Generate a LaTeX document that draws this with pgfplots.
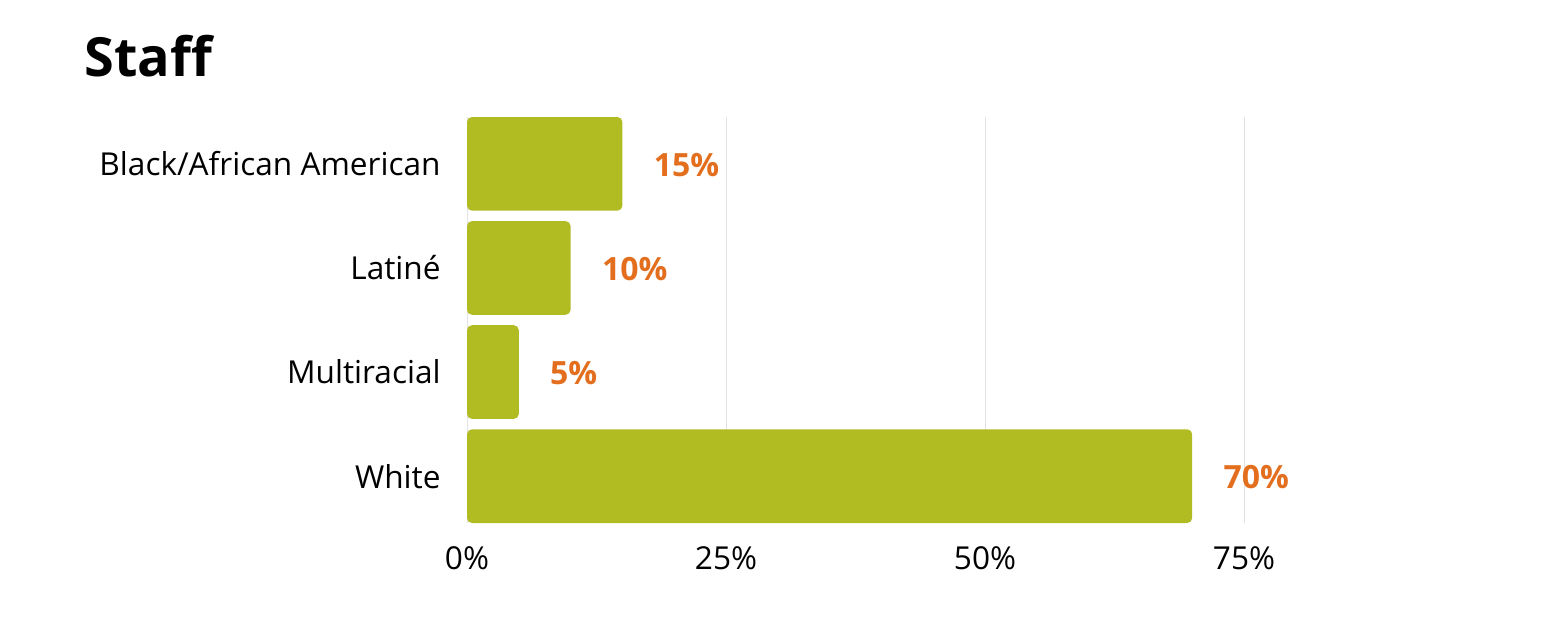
\documentclass[border=0pt]{standalone}
\usepackage{pgfplots}
\pgfplotsset{compat=1.18}
\usepackage{fontspec}
\setmainfont{Open Sans}
\definecolor{barc}{HTML}{B1BC22}
\definecolor{labc}{HTML}{E36F1E}
\definecolor{gridc}{HTML}{E2E2E2}
\begin{document}
\begin{tikzpicture}
\path[use as bounding box] (0,0) rectangle (772.5pt,308pt);
\node[anchor=base west, font=\fontsize{27}{30}\selectfont\bfseries, inner sep=0pt] at (42pt,269.5pt) {Staff};
\begin{axis}[
  at={(233.5pt,46.5pt)}, anchor=south west,
  scale only axis, width=518pt, height=203pt,
  xbar, bar width=0.9,
  xmin=0, xmax=100, ymin=-0.45, ymax=3.45,
  xtick={0,25,50,75},
  xticklabels={0\%,25\%,50\%,75\%},
  ytick={0,1,2,3},
  yticklabels={White,Multiracial,Latiné,Black/African American},
  axis line style={draw=none},
  major tick length=0pt,
  xmajorgrids, grid style={gridc, line width=0.5pt},
  ticklabel style={font=\fontsize{15.8}{18}\selectfont},
  yticklabel style={inner sep=0pt, xshift=-13pt},
  xticklabel style={inner sep=0pt, yshift=-11.5pt},
  /pgf/number format/assume math mode=true,
  nodes near coords={\pgfmathprintnumber{\pgfplotspointmeta}\%},
  nodes near coords align=horizontal,
  every node near coord/.append style={labc, font=\fontsize{16}{18}\selectfont\bfseries, inner sep=0pt, anchor=west, xshift=15.5pt, yshift=-0.5pt},
]
\addplot[fill=barc, draw=none, rounded corners=2.5pt] coordinates {(70,0) (5,1) (10,2) (15,3)};
\end{axis}
\end{tikzpicture}
\end{document}
